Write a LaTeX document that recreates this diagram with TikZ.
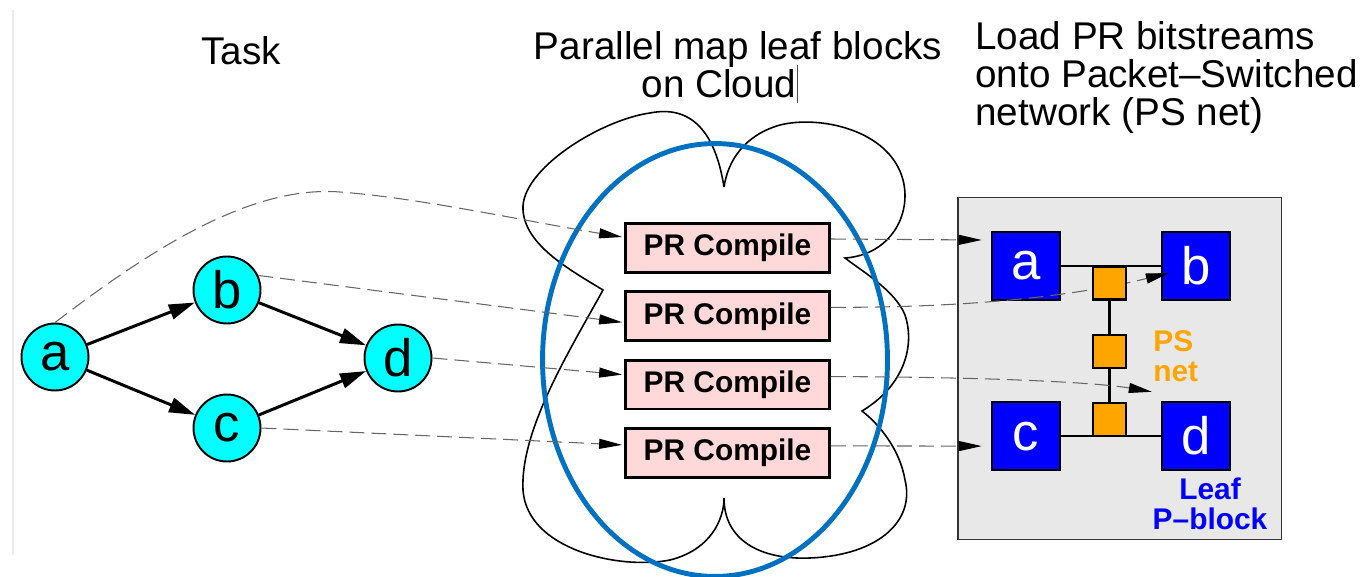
\documentclass[tikz,border=0pt]{standalone}
\usepackage{fontspec}
\setmainfont{Liberation Sans}
\definecolor{taskcyan}{RGB}{0,255,255}
\definecolor{prpink}{RGB}{255,217,217}
\definecolor{ringblue}{RGB}{0,112,192}
\definecolor{leafblue}{RGB}{0,0,255}
\definecolor{switchorange}{RGB}{255,165,0}
\definecolor{netgrey}{RGB}{232,232,232}
\usetikzlibrary{calc}
\usetikzlibrary{positioning}
\usetikzlibrary{arrows.meta,shapes.geometric,backgrounds}
\tikzset{
  headline/.style={font=\fontsize{22}{21.6}\selectfont, inner sep=0pt},
  taskvertex/.style={draw, circle, fill=taskcyan, line width=1.1pt, minimum size=1.34cm, inner sep=0pt, font=\fontsize{30}{30}\selectfont},
  taskedge/.style={line width=1.7pt, -{Triangle[length=0.52cm,width=0.3cm]}},
  prbox/.style={draw, fill=prpink, line width=1.6pt, minimum width=4.08cm, minimum height=0.98cm, inner sep=0pt, font=\fontsize{17}{17}\selectfont\bfseries},
  leafblock/.style={draw, fill=leafblue, line width=1.5pt, minimum size=1.36cm, inner sep=0pt, text=white, font=\fontsize{30}{30}\selectfont},
  psswitch/.style={draw, fill=switchorange, line width=1.2pt, minimum size=0.66cm, inner sep=0pt},
  mapline/.style={black!60, line width=0.6pt, dash pattern=on 0.3cm off 0.14cm, -{Triangle[length=0.46cm,width=0.2cm,color=black]}}
}

\begin{document}
\begin{tikzpicture}[x=0.02cm, y=-0.02cm]
  \useasboundingbox (0,0) rectangle (1361,577);
  \draw [black!8, line width=1pt] (13,10) -- (13,555);

  % titles
  \node [headline, anchor=base] (tasktitle) at (241,65) {Task};
  \node [headline, align=center, anchor=north] (maptitle) at (738,31) {Parallel map leaf blocks\\on Cloud\hspace*{0.76cm}};
  \draw [black!70, line width=0.4pt] (797,65) -- (797,103);
  \node [headline, align=left, anchor=north west] (loadtitle) at (975,21) {Load PR bitstreams\\onto Packet–Switched\\network (PS net)};

  % task graph
  \node [taskvertex] (ta) at (55,357) {a};
  \node [taskvertex] (tb) at (227,290) {b};
  \node [taskvertex] (tc) at (227,428) {c};
  \node [taskvertex] (td) at (398,358) {d};
  \draw [taskedge] (ta) -- (tb);
  \draw [taskedge] (ta) -- (tc);
  \draw [taskedge] (tb) -- (td);
  \draw [taskedge] (tc) -- (td);

  % cloud
  \draw [line width=0.9pt] (724,187)
    .. controls (715,130) and (690,105) .. (650,113)
    .. controls (600,120) and (520,170) .. (523,210)
    .. controls (525,245) and (570,270) .. (603,290)
    .. controls (570,350) and (520,430) .. (523,490)
    .. controls (527,550) and (620,570) .. (670,560)
    .. controls (710,550) and (724,520) .. (724,498)
    .. controls (724,540) and (760,560) .. (810,558)
    .. controls (880,555) and (915,520) .. (905,480)
    .. controls (900,450) and (880,425) .. (862,411)
    .. controls (905,385) and (915,345) .. (905,315)
    .. controls (895,290) and (860,270) .. (845,258)
    .. controls (890,255) and (912,215) .. (903,180)
    .. controls (890,130) and (820,115) .. (780,125)
    .. controls (745,135) and (728,160) .. (724,187);
  \node [draw=ringblue, line width=2.8pt, ellipse, minimum width=6.9cm, minimum height=8.66cm, inner sep=0pt] (cloudring) at (715,360) {};

  % compile jobs
  \node [prbox] (pr1) at (727.5,248) {PR Compile};
  \node [prbox, below=0.33cm of pr1] (pr2) {PR Compile};
  \node [prbox, below=0.33cm of pr2] (pr3) {PR Compile};
  \node [prbox, below=0.33cm of pr3] (pr4) {PR Compile};

  \draw [mapline] (ta.north) .. controls (150,250) and (250,185) .. (340,192)
    .. controls (420,198) and (530,222) .. ($(pr1.west)+(-2,-11)$);
  \draw [mapline] (tb.25) -- ($(pr2.west)+(-2,6)$);
  \draw [mapline] (td.east) -- ($(pr3.west)+(-2,-10)$);
  \draw [mapline] (tc.east) -- ($(pr4.west)+(-2,-8)$);

  % PS net
  \begin{scope}[on background layer]
    \node [draw=black!80, fill=netgrey, line width=1.1pt, minimum width=6.48cm, minimum height=6.84cm, inner sep=0pt] (psnet) at (1119.5,368.5) {};
  \end{scope}
  \node [leafblock] (la) at (1026,266) {a};
  \node [leafblock, right=1.99cm of la] (lb) {b};
  \node [leafblock, below=1.99cm of la] (lc) {c};
  \node [leafblock, right=1.99cm of lc] (ld) {d};

  \draw [mapline] ($(pr1.east)+(0,-9)$) -- ($(la.west)+(-9,-26)$);
  \draw [mapline] ($(pr2.east)+(0,-9)$) .. controls (1000,308) and (1100,290) .. ($(lb.west)+(8,7)$);
  \draw [mapline] ($(pr3.east)+(0,-8)$) .. controls (1000,377) and (1100,383) .. ($(ld.north west)+(-9,-9)$);
  \draw [mapline] ($(pr4.east)+(0,-7)$) -- ($(lc.west)+(-9,10)$);

  \node [psswitch] (s1) at (1109.5,283) {};
  \node [psswitch, below=0.66cm of s1] (s2) {};
  \node [psswitch, below=0.66cm of s2] (s3) {};
  \begin{scope}[on background layer]
    \draw [line width=1.3pt] (la.east) -- (lb.west);
    \draw [line width=1.3pt] (lc.east) -- (ld.west);
    \draw [line width=1.3pt] (s1) -- (s3);
  \end{scope}

  \node [anchor=north west, inner sep=0pt, align=left, text=switchorange, font=\fontsize{17}{17}\selectfont\bfseries] (pslabel) at (1153,330) {PS\\net};
  \node [anchor=north, inner sep=0pt, align=center, text=leafblue, font=\fontsize{17}{17}\selectfont\bfseries] (leaflabel) at (1210,478) {Leaf\\P–block};
\end{tikzpicture}
\end{document}
